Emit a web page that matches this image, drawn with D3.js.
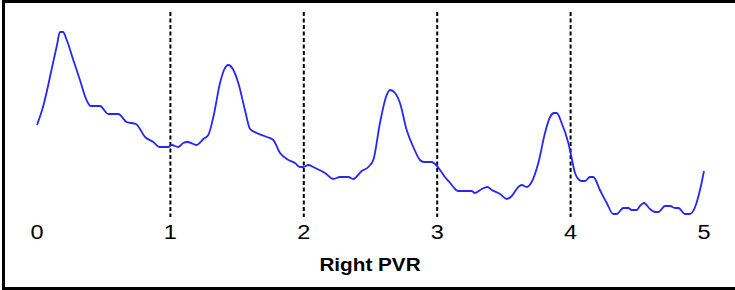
<!DOCTYPE html>
<html>
<head>
<meta charset="utf-8">
<script src="https://cdn.jsdelivr.net/npm/d3@7"></script>
<style>
  body { margin: 0; background: #fff; }
  svg { display: block; }
</style>
</head>
<body>
<div id="chart"></div>
<script>
// time in seconds, pressure in arbitrary units
const time = [0.000, 0.045, 0.120, 0.150, 0.172, 0.195, 0.223, 0.272, 0.322, 0.365,
  0.403, 0.472, 0.534, 0.609, 0.672, 0.742, 0.810, 0.872, 0.917, 0.984,
  1.010, 1.059, 1.097, 1.127, 1.172, 1.197, 1.247, 1.284, 1.322, 1.372,
  1.402, 1.434, 1.472, 1.509, 1.559, 1.597, 1.647, 1.722, 1.771, 1.822,
  1.872, 1.934, 1.972, 1.996, 2.034, 2.071, 2.116, 2.159, 2.221, 2.271,
  2.334, 2.371, 2.434, 2.484, 2.521, 2.571, 2.616, 2.646, 2.684, 2.721,
  2.771, 2.821, 2.871, 2.901, 2.959, 2.984, 3.021, 3.058, 3.091, 3.121,
  3.158, 3.258, 3.283, 3.334, 3.376, 3.409, 3.471, 3.521, 3.559, 3.608,
  3.634, 3.671, 3.708, 3.758, 3.808, 3.846, 3.876, 3.896, 3.933, 3.983,
  4.008, 4.033, 4.065, 4.083, 4.108, 4.145, 4.170, 4.220, 4.271, 4.320,
  4.345, 4.395, 4.433, 4.458, 4.496, 4.520, 4.550, 4.595, 4.633, 4.658,
  4.708, 4.745, 4.783, 4.808, 4.858, 4.895, 4.933, 4.970, 5.000];
const pressure = [92, 110, 154, 172, 185, 185, 177, 157, 137, 119,
  111, 111, 103, 103, 95, 93, 80, 75, 70, 70,
  72, 70, 74, 75, 73, 72, 78, 82, 100, 134,
  147, 152, 147, 134, 107, 88, 84, 80, 77, 64,
  58, 54, 50, 50, 52, 50, 47, 44, 38, 40,
  40, 38, 46, 50, 57, 94, 120, 127, 124, 114,
  87, 70, 57, 55, 55, 53, 47, 40, 35, 30,
  26, 26, 24, 28, 30, 27, 23, 18, 21, 30,
  32, 30, 35, 54, 84, 100, 104, 104, 94, 74,
  59, 44, 37, 36, 36, 40, 40, 27, 14, 3,
  3, 9, 9, 7, 7, 11, 14, 8, 5, 5,
  11, 11, 9, 9, 3, 3, 10, 27, 46];
const ticks = [0, 1, 2, 3, 4, 5];
const markers = [1, 2, 3, 4];
const title = 'Right PVR';

const W = 735, H = 290;
const svg = d3.select('#chart').append('svg')
  .attr('width', W).attr('height', H);

// frame (right edge falls outside the picture)
svg.append('rect')
  .attr('x', 3.5).attr('y', 1.5)
  .attr('width', W + 10).attr('height', 287)
  .attr('fill', 'none').attr('stroke', '#000').attr('stroke-width', 3);

const x = d3.scaleLinear().domain([0, 5]).range([37, 704]);
const y = d3.scaleLinear().domain([0, 205]).range([217, 12]);

svg.selectAll('line.marker')
  .data(markers)
  .join('line')
  .attr('class', 'marker')
  .attr('x1', d => x(d)).attr('x2', d => x(d))
  .attr('y1', y(205)).attr('y2', y(0))
  .attr('stroke', '#000').attr('stroke-width', 2)
  .attr('stroke-dasharray', '4,2.5');

const pts = time.map((t, i) => [t, pressure[i]]);
svg.append('path')
  .datum(pts)
  .attr('d', d3.line().x(d => x(d[0])).y(d => y(d[1])).curve(d3.curveMonotoneX))
  .attr('fill', 'none')
  .attr('stroke', '#2626f5')
  .attr('stroke-width', 1.8);

// text in the picture is a little stretched sideways
svg.selectAll('text.tick')
  .data(ticks)
  .join('text')
  .attr('class', 'tick')
  .attr('transform', d => `translate(${x(d)},239) scale(1.12,1)`)
  .attr('text-anchor', 'middle')
  .style('font-family', 'Liberation Sans, Arial, sans-serif')
  .style('font-size', '21px')
  .text(d => d);

svg.append('text')
  .attr('transform', 'translate(370,271) scale(1.12,1)')
  .attr('text-anchor', 'middle')
  .style('font-family', 'Liberation Sans, Arial, sans-serif')
  .style('font-size', '18.5px')
  .style('font-weight', 'bold')
  .text(title);
</script>
</body>
</html>
